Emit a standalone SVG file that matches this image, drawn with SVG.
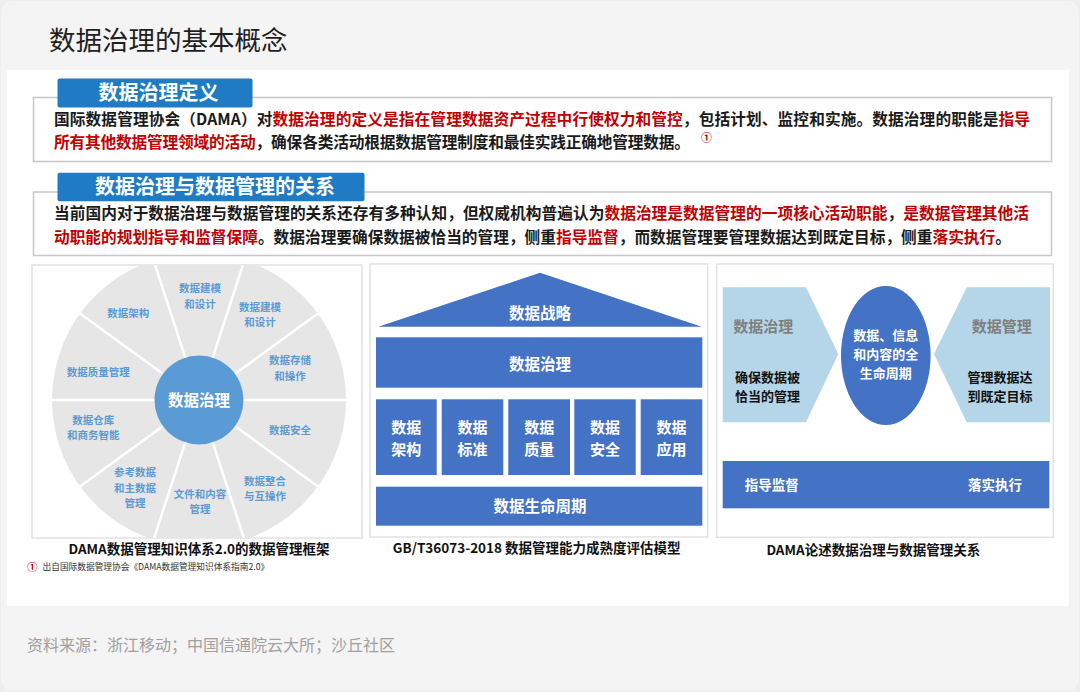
<svg xmlns="http://www.w3.org/2000/svg" width="1080" height="692" viewBox="0 0 1080 692">
<defs>
<style>
text{font-family:"Noto Sans CJK SC","Noto Sans",sans-serif}
.body{font-size:15.7px;font-weight:700;fill:#1a1a1a}
.red{fill:#c00000}
.lbl{font-size:20px;font-weight:700;fill:#fff}
.lblbg{fill:#1f7cc4}
.box{fill:#fff;stroke:#c8c8c8;stroke-width:1.5}
.panel{fill:#fff;stroke:#e2e2e2;stroke-width:1.5}
.blue{fill:#4472c4}
.lb{fill:#b5d6e8}
.wt{fill:#fff;font-weight:700;text-anchor:middle}
.seg{fill:#5b9bd5;font-size:10.5px;font-weight:700;text-anchor:middle}
.cap{font-size:13.5px;font-weight:700;fill:#111;text-anchor:middle}
.gr{fill:#7f7f7f;font-size:15px;font-weight:700;text-anchor:middle}
.bk{fill:#111;font-size:13px;font-weight:700;text-anchor:middle}
</style>
<clipPath id="c1"><rect x="32" y="265" width="330" height="273"/></clipPath>
</defs>
<rect x="0" y="0" width="1080" height="692" fill="#eeeeee"/>
<rect x="1" y="1" width="1078" height="690" rx="12" fill="#f4f4f4"/>
<text x="49" y="50" font-size="26.5" fill="#1f1f1f">数据治理的基本概念</text>
<rect x="7" y="70" width="1062" height="536" fill="#fff"/>

<g id="definition">
<rect class="box" x="33.5" y="97.5" width="1018" height="64"/>
<rect class="lblbg" x="57.5" y="78.5" width="195" height="29" rx="2"/>
<text class="lbl" x="98.5" y="100">数据治理定义</text>
<text class="body" x="54" y="124.5" textLength="976" lengthAdjust="spacing">国际数据管理协会（DAMA）对<tspan class="red">数据治理的定义是指在管理数据资产过程中行使权力和管控</tspan>，包括计划、监控和实施。数据治理的职能是<tspan class="red">指导</tspan></text>
<text class="body" x="54" y="148" textLength="636" lengthAdjust="spacing"><tspan class="red">所有其他数据管理领域的活动</tspan>，确保各类活动根据数据管理制度和最佳实践正确地管理数据。</text>
<text x="701" y="142" font-size="11" font-weight="700" fill="#c00000">①</text>
</g>

<g id="relation">
<rect class="box" x="33.5" y="192" width="1018" height="63.5"/>
<rect class="lblbg" x="57.5" y="172.7" width="307" height="28.6" rx="2"/>
<text class="lbl" x="95" y="194.3">数据治理与数据管理的关系</text>
<text class="body" x="54" y="219" textLength="975" lengthAdjust="spacing">当前国内对于数据治理与数据管理的关系还存有多种认知，但权威机构普遍认为<tspan class="red">数据治理是数据管理的一项核心活动职能</tspan>，<tspan class="red">是数据管理其他活</tspan></text>
<text class="body" x="54" y="242.5"><tspan class="red">动职能的规划指导和监督保障</tspan>。数据治理要确保数据被恰当的管理，侧重<tspan class="red">指导监督</tspan>，而数据管理要管理数据达到既定目标，侧重<tspan class="red">落实执行</tspan>。</text>
</g>

<g id="dama-wheel">
<rect class="panel" x="32" y="265" width="330" height="273"/>
<g clip-path="url(#c1)">
<circle cx="199" cy="400" r="147" fill="#e6e6e6"/>
<path d="M199 400L349 400M199 400L320.4 311.8M199 400L245.4 257.3M199 400L152.6 257.3M199 400L77.6 311.8M199 400L49 400M199 400L77.6 488.2M199 400L152.6 542.7M199 400L245.4 542.7M199 400L320.4 488.2" stroke="#fff" stroke-width="2.5" fill="none"/>
</g>
<circle cx="199" cy="400" r="44.5" fill="#5b9bd5"/>
<text class="wt" x="199" y="405.5" font-size="15.5">数据治理</text>
<text class="seg" x="200" y="292.4">数据建模<tspan x="200" dy="15.3">和设计</tspan></text>
<text class="seg" x="260" y="310.7">数据建模<tspan x="260" dy="15.3">和设计</tspan></text>
<text class="seg" x="290" y="364.3">数据存储<tspan x="290" dy="15.3">和操作</tspan></text>
<text class="seg" x="290" y="434">数据安全</text>
<text class="seg" x="265" y="484.7">数据整合<tspan x="265" dy="15.3">与互操作</tspan></text>
<text class="seg" x="200" y="498">文件和内容<tspan x="200" dy="15.3">管理</tspan></text>
<text class="seg" x="135" y="476.2">参考数据<tspan x="135" dy="15.3">和主数据</tspan><tspan x="135" dy="15.3">管理</tspan></text>
<text class="seg" x="93.3" y="423.7">数据仓库<tspan x="93.3" dy="15.3">和商务智能</tspan></text>
<text class="seg" x="98.3" y="376.3">数据质量管理</text>
<text class="seg" x="128.3" y="316.7">数据架构</text>
<text class="cap" x="199" y="553.5">DAMA数据管理知识体系2.0的数据管理框架</text>
</g>

<g id="gb-model">
<rect class="panel" x="370" y="264" width="337.7" height="273"/>
<polygon class="blue" points="540,272.7 378.3,326.7 701.7,326.7"/>
<text class="wt" x="540" y="318.5" font-size="15.5">数据战略</text>
<rect class="blue" x="376" y="337.3" width="326.3" height="50.4"/>
<text class="wt" x="540" y="369.5" font-size="15.5">数据治理</text>
<rect class="blue" x="376" y="399.3" width="60.7" height="75.7"/>
<rect class="blue" x="441.7" y="399.3" width="61.6" height="75.7"/>
<rect class="blue" x="508.3" y="399.3" width="61.7" height="75.7"/>
<rect class="blue" x="574.3" y="399.3" width="61.4" height="75.7"/>
<rect class="blue" x="640.7" y="399.3" width="61.6" height="75.7"/>
<g class="wt" font-size="15">
<text x="406.3" y="433">数据<tspan x="406.3" dy="21.8">架构</tspan></text>
<text x="472.5" y="433">数据<tspan x="472.5" dy="21.8">标准</tspan></text>
<text x="539.2" y="433">数据<tspan x="539.2" dy="21.8">质量</tspan></text>
<text x="605" y="433">数据<tspan x="605" dy="21.8">安全</tspan></text>
<text x="671.5" y="433">数据<tspan x="671.5" dy="21.8">应用</tspan></text>
</g>
<rect class="blue" x="376" y="486.7" width="326.3" height="39"/>
<text class="wt" x="540" y="512" font-size="15.5">数据生命周期</text>
<text class="cap" x="536.7" y="553">GB/T36073-2018 数据管理能力成熟度评估模型</text>
</g>

<g id="dama-relation">
<rect class="panel" x="716.7" y="264" width="336.6" height="273.3"/>
<polygon class="lb" points="722.7,287.3 806,287.3 838.3,354 806,422.3 722.7,422.3"/>
<polygon class="lb" points="1050,287.3 966.7,287.3 934,354 966.7,422.3 1050,422.3"/>
<ellipse class="blue" cx="885.8" cy="355.5" rx="44.8" ry="69.5"/>
<text class="wt" font-size="13" x="885.8" y="340.4">数据、信息<tspan x="885.8" dy="18.9">和内容的全</tspan><tspan x="885.8" dy="18.9">生命周期</tspan></text>
<text class="gr" x="763.3" y="332">数据治理</text>
<text class="bk" x="767.5" y="381.7">确保数据被<tspan x="767.5" dy="18.9">恰当的管理</tspan></text>
<text class="gr" x="1001.7" y="332">数据管理</text>
<text class="bk" x="1000" y="381.7">管理数据达<tspan x="1000" dy="18.9">到既定目标</tspan></text>
<rect class="blue" x="722.7" y="461" width="326.6" height="47.3"/>
<text class="wt" x="771.7" y="490" font-size="13.5">指导监督</text>
<text class="wt" x="995" y="490" font-size="13.5">落实执行</text>
<text class="cap" x="873.3" y="555">DAMA论述数据治理与数据管理关系</text>
</g>

<g id="footnote">
<text x="27" y="570.5" font-size="10.5" font-weight="700" fill="#c00000">①</text>
<text x="42.5" y="569.5" font-size="8.7" fill="#333">出自国际数据管理协会《DAMA数据管理知识体系指南2.0》</text>
</g>
<text x="27" y="651" font-size="16" fill="#a0a0a0">资料来源：浙江移动；中国信通院云大所；沙丘社区</text>
</svg>
